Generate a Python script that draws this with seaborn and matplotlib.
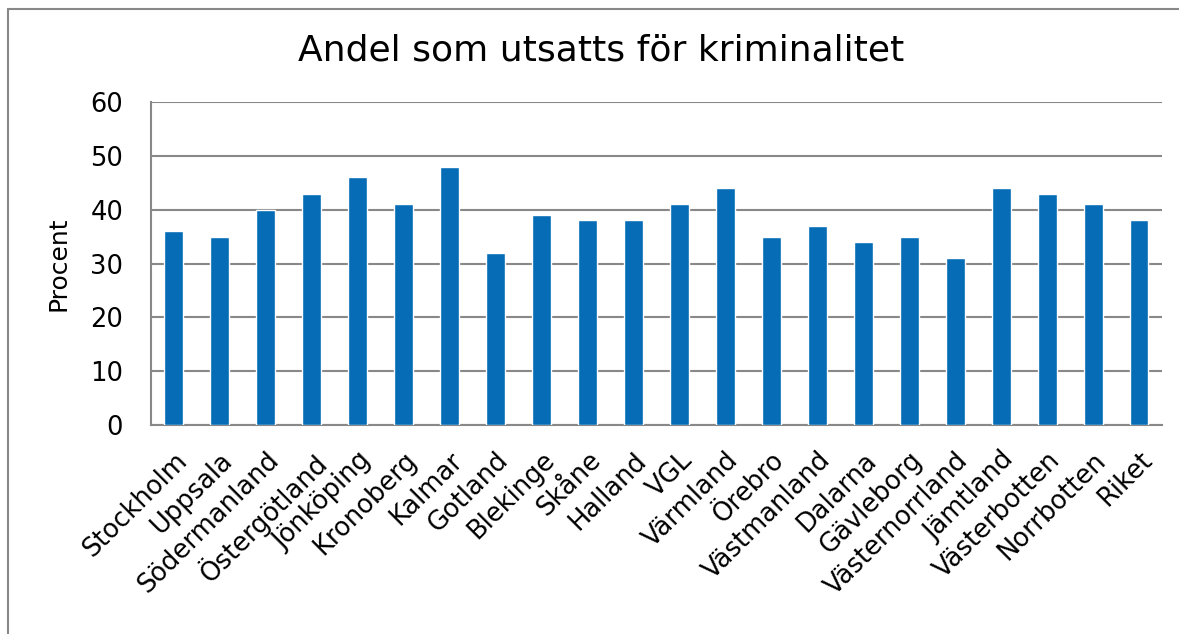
import pandas as pd
import numpy as np
import matplotlib
matplotlib.use("Agg")
import matplotlib.pyplot as plt
import seaborn as sns
from matplotlib.lines import Line2D

# Data
lan = ['Stockholm', 'Uppsala', 'Södermanland', 'Östergötland', 'Jönköping',
       'Kronoberg', 'Kalmar', 'Gotland', 'Blekinge', 'Skåne', 'Halland', 'VGL',
       'Värmland', 'Örebro', 'Västmanland', 'Dalarna', 'Gävleborg',
       'Västernorrland', 'Jämtland', 'Västerbotten', 'Norrbotten', 'Riket']
procent = [36, 35, 40, 43, 46, 41, 48, 32, 39, 38, 38, 41,
           44, 35, 37, 34, 35, 31, 44, 43, 41, 38]
yticks = [0, 10, 20, 30, 40, 50, 60]

df = pd.DataFrame({'Län': lan, 'Procent': procent})

sns.set_style("white")
plt.rcParams['font.family'] = ['DejaVu Sans']
plt.rcParams['text.color'] = 'black'

fig = plt.figure(figsize=(11.79, 6.34), dpi=100)
ax = fig.add_axes([0.128, 0.3297, 0.8576, 0.5093])

sns.barplot(data=df, x='Län', y='Procent', color='#066CB6', width=0.41,
            saturation=1, ax=ax, zorder=3)

ax.set_ylim(0, 60)
ax.set_yticks(yticks)
ax.yaxis.grid(True, color='#888888', linewidth=1.5, zorder=0)
ax.set_axisbelow(True)
for s in ['top', 'right']:
    ax.spines[s].set_visible(False)
for s in ['left', 'bottom']:
    ax.spines[s].set_color('#888888')
    ax.spines[s].set_linewidth(1.5)
ax.tick_params(axis='both', length=0, labelsize=18.5, colors='black')
ax.tick_params(axis='y', pad=20)
ax.tick_params(axis='x', pad=16)
plt.setp(ax.get_xticklabels(), rotation=45, ha='right', rotation_mode='anchor')
ax.set_xlabel('')
ax.set_ylabel('Procent', fontsize=18, labelpad=14, color='black')
fig.text(0.51, 0.92, 'Andel som utsatts för kriminalitet', ha='center',
         va='center', fontsize=26, color='black')

# ram runt diagrammet
fig.add_artist(Line2D([8 / 1179, 8 / 1179], [0, 1 - 9 / 634], color='#888888', lw=1.5))
fig.add_artist(Line2D([8 / 1179, 1], [1 - 9 / 634, 1 - 9 / 634], color='#888888', lw=1.5))

fig.savefig('out.png', dpi=100)
